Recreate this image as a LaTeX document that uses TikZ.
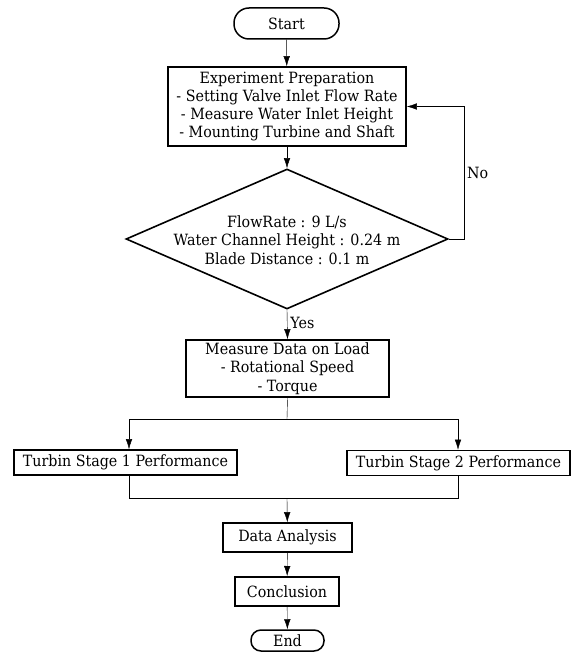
\documentclass[tikz,border=0pt]{standalone}
\usepackage{fontspec}
\setmainfont[FakeStretch=0.92]{DejaVu Serif}
\usetikzlibrary{arrows.meta,shapes.geometric}
\tikzset{
  x=1pt,y=-1pt,
  line width=1.5pt,
  txt/.style={font=\fontsize{15.5}{18.3}\selectfont, align=center, inner sep=0pt},
  boxnode/.style={draw, line width=1.6pt, rectangle, txt},
  term/.style={draw, line width=1.5pt, rounded corners=10pt, txt},
  arr/.style={-{Latex[length=10pt,width=6.5pt]}},
}
\begin{document}
\begin{tikzpicture}
\useasboundingbox (0,0) rectangle (575,652);
\node[term, minimum width=105pt, minimum height=31pt, rounded corners=15pt] (start) at (286.5,23.5) {Start};
\node[boxnode, minimum width=238pt, minimum height=79pt] (prep) at (287,106.5)
  {Experiment Preparation\\- Setting Valve Inlet Flow Rate\\- Measure Water Inlet Height\\- Mounting Turbine and Shaft};
\node[draw, line width=1.6pt, diamond, minimum width=322pt, minimum height=140pt, inner sep=0pt] (dec) at (287,239) {};
\node[txt] (dectext) at (287,240) {FlowRate : 9 L/s\\Water Channel Height : 0.24 m\\Blade Distance : 0.1 m};
\node[boxnode, minimum width=203pt, minimum height=57pt] (meas) at (287.5,368.5)
  {Measure Data on Load\\- Rotational Speed\\- Torque};
\node[boxnode, minimum width=223pt, minimum height=25pt] (s1) at (125.5,462.5) {Turbin Stage 1 Performance};
\node[boxnode, minimum width=223pt, minimum height=25pt] (s2) at (458.5,463) {Turbin Stage 2 Performance};
\node[boxnode, minimum width=129pt, minimum height=29pt] (da) at (287.5,537.5) {Data Analysis};
\node[boxnode, line width=2pt, minimum width=104pt, minimum height=29pt] (conc) at (287,591.5) {Conclusion};
\node[term, minimum width=73pt, minimum height=21pt] (end) at (287.5,640.5) {End};

\coordinate (nocorner) at (464,106.5);
\coordinate (br) at (287,419);
\coordinate (b1) at (129,419);
\coordinate (b2) at (458,419);
\coordinate (m1) at (129,498);
\coordinate (m2) at (458,498);
\coordinate (mc) at (287,498);

\draw[arr] (start) -- (prep);
\draw[arr] (prep) -- (dec);
\draw[arr] (dec.east) -| node[txt, pos=0.75, right=3pt] (no) {No} (nocorner) -- (prep.east);
\draw[arr] (dec.south) -- node[txt, right=3pt, pos=0.45] (yes) {Yes} (meas.north);
\draw (meas.south) -- (br);
\draw (b1) -- (b2);
\draw[arr] (b1) -- (b1 |- s1.north);
\draw[arr] (b2) -- (b2 |- s2.north);
\draw (b1 |- s1.south) -- (m1) -- (m2) -- (b2 |- s2.south);
\draw[arr] (mc) -- (da);
\draw[arr] (da) -- (conc);
\draw[arr] (conc) -- (end);
\end{tikzpicture}
\end{document}
